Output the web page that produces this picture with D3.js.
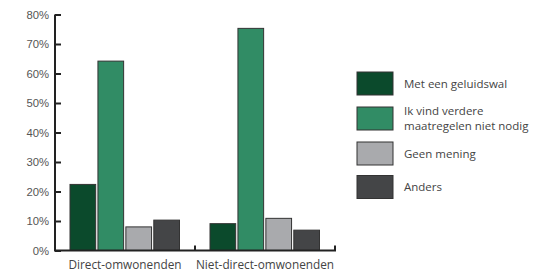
<!DOCTYPE html>
<html><head><meta charset="utf-8">
<script src="https://cdn.jsdelivr.net/npm/d3@7/dist/d3.min.js"></script>
<style>body{margin:0;background:#fff;}svg{display:block;font-family:"Open Sans",sans-serif;}</style>
</head><body>
<svg id="c" width="535" height="272"></svg>
<script>
const groups = ["Direct-omwonenden", "Niet-direct-omwonenden"];
const seriesNames = ["Met een geluidswal", "Ik vind verdere maatregelen niet nodig", "Geen mening", "Anders"];
const legendLines = [["Met een geluidswal"], ["Ik vind verdere", "maatregelen niet nodig"], ["Geen mening"], ["Anders"]];
const seriesColors = ["#0b4a2c", "#318c65", "#a9aaad", "#444547"];
const valuesDirect = [22.4, 64.2, 8.0, 10.3];
const valuesNiet = [9.1, 75.3, 10.9, 6.9];
const yTicks = [0, 10, 20, 30, 40, 50, 60, 70, 80];

const values = [valuesDirect, valuesNiet];
const svg = d3.select("#c");
const x0 = d3.scaleBand().domain(groups).range([55, 335]).paddingInner(0).paddingOuter(0);
const x1 = d3.scaleBand().domain(d3.range(4)).range([15, 139.5-15]).paddingInner(0.08).paddingOuter(0);
const y = d3.scaleLinear().domain([0, 80]).range([250.5, 14.5]);

// bars
groups.forEach((g, gi) => {
  svg.append("g").attr("transform", `translate(${x0(g)},0)`)
    .selectAll("rect").data(values[gi]).join("rect")
    .attr("x", (d, i) => x1(i))
    .attr("width", x1.bandwidth())
    .attr("y", d => y(d))
    .attr("height", d => y(0) - y(d))
    .attr("fill", (d, i) => seriesColors[i])
    .attr("stroke", "#333")
    .attr("stroke-width", 1);
});

// y axis
const yAxis = d3.axisRight(y).tickValues(yTicks).tickSize(6).tickFormat(d => d + "%");
const ya = svg.append("g").attr("transform", "translate(55,0)").call(yAxis);
ya.select(".domain").attr("stroke", "#222").attr("stroke-width", 2).attr("d", `M0,${y(80)}V${y(0)}`);
ya.selectAll(".tick line").attr("stroke", "#222").attr("stroke-width", 2);
ya.selectAll(".tick text").attr("x", -6).attr("text-anchor", "end").attr("fill", "#555").attr("font-size", 11.3).attr("dy", "0.35em");

// x axis
const xa = svg.append("g").attr("transform", `translate(0,${y(0)})`);
xa.append("path").attr("d", `M54,0H336`).attr("stroke", "#222").attr("stroke-width", 2).attr("fill", "none");
[x0.range()[0] + x0.bandwidth(), x0.range()[1]].forEach(v => {
  xa.append("line").attr("x1", v).attr("x2", v).attr("y1", 0).attr("y2", -5).attr("stroke", "#222").attr("stroke-width", 2);
});
groups.forEach(g => {
  xa.append("text").attr("x", x0(g) + x0.bandwidth() / 2).attr("y", 18.5)
    .attr("text-anchor", "middle").attr("fill", "#444").attr("font-size", 11.8).text(g);
});

// legend
const legendY = [72, 107, 142, 175.5];
const lg = svg.append("g");
seriesNames.forEach((s, i) => {
  lg.append("rect").attr("x", 357).attr("y", legendY[i]).attr("width", 36).attr("height", 23)
    .attr("fill", seriesColors[i]).attr("stroke", "#333").attr("stroke-width", 1);
  const lines = legendLines[i];
  const cy = legendY[i] + 11.5;
  lines.forEach((l, li) => {
    lg.append("text").attr("x", 404).attr("fill", "#444").attr("font-size", 11.5)
      .attr("y", cy + (li - (lines.length - 1) / 2) * 14.5)
      .attr("dy", "0.35em").text(l);
  });
});
</script>
</body></html>
